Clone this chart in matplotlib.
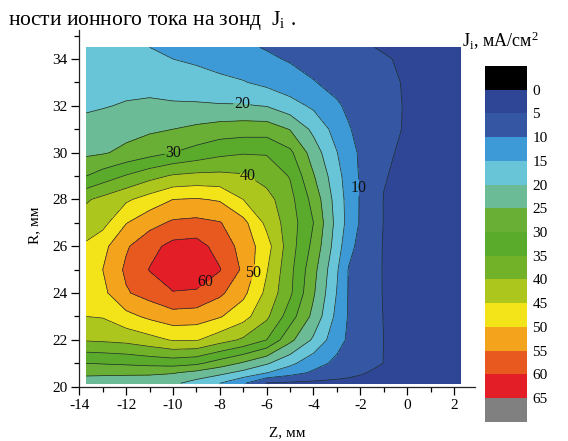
import numpy as np
import matplotlib
matplotlib.use("Agg")
import matplotlib.pyplot as plt
from matplotlib.colors import ListedColormap
from matplotlib.ticker import MultipleLocator

plt.rcParams['font.family'] = ['Liberation Serif', 'DejaVu Serif']
plt.rcParams['mathtext.fontset'] = 'custom'
plt.rcParams['mathtext.rm'] = 'Liberation Serif'
plt.rcParams['mathtext.it'] = 'Liberation Serif:italic'
plt.rcParams['axes.unicode_minus'] = False

# probe positions
z_mm = [-13.7, -13, -12, -11, -10, -9, -8, -7, -6, -5, -4, -3, -2.5, -2, -1.5, -1, 0, 1, 2, 2.3]
r_mm = [20.15, 20.6, 21, 22, 23, 24, 25, 26, 27, 28, 29, 30, 31, 32, 33, 34, 34.5]

# ion current density J_i, mA/cm^2 (rows = r_mm, columns = z_mm)
j_ion = [
    [22, 22, 22, 22.3, 21, 18, 15, 10.6, 4.7, 4.2, 3.9, 3.6, 3.5, 3.4, 3.2, 3.0, 2.8, 2.8, 2.8, 2.8],
    [26.4, 26.2, 26, 25.8, 25.4, 23.6, 21.4, 18.6, 15.2, 12, 9.25, 7.4, 6.4, 5.5, 4.6, 4.0, 3.5, 3.3, 3.2, 3.2],
    [30, 30.3, 30.8, 31.5, 32, 31, 27.6, 24.3, 20.6, 16.2, 11.85, 8.9, 7.9, 6.9, 5.9, 4.95, 3.9, 3.5, 3.4, 3.4],
    [40.5, 40.8, 41.5, 43.3, 45.4, 45.4, 42.2, 39.2, 35, 26.3, 19.2, 11.75, 9.3, 7.9, 6.45, 4.98, 4.0, 3.6, 3.5, 3.5],
    [45, 45.3, 48.5, 51, 52.9, 52.5, 50.4, 46.9, 41, 32.3, 23.6, 13.6, 9.6, 8.0, 6.4, 4.9, 4.0, 3.6, 3.5, 3.5],
    [47.3, 48.7, 54.5, 57, 59.7, 59.3, 56, 51.25, 43.8, 35.9, 25.6, 14.8, 9.66, 8.0, 6.3, 4.8, 4.0, 3.6, 3.5, 3.5],
    [48.3, 50, 55.9, 60.2, 63.3, 63.5, 60.3, 54.1, 45.4, 36.4, 26.7, 15.6, 9.75, 8.0, 6.2, 4.8, 4.0, 3.6, 3.5, 3.5],
    [45.7, 48.5, 54.4, 58.4, 61.5, 62, 58, 53.25, 47, 37.3, 28.6, 17.4, 11.6, 8.5, 6.4, 4.8, 4.0, 3.6, 3.5, 3.5],
    [42.6, 43.4, 49.8, 53.3, 55.8, 56.3, 55.3, 51.5, 43.8, 37.5, 30, 18.3, 13.3, 9.5, 7.3, 4.9, 4.0, 3.6, 3.5, 3.5],
    [39.4, 41.4, 44.2, 47.1, 50, 50.4, 49.5, 45, 41.8, 36.6, 28.3, 17.8, 13.2, 9.6, 7.2, 4.9, 4.0, 3.6, 3.5, 3.5],
    [30, 32.3, 35.4, 38.3, 40.6, 41.3, 41.3, 40.6, 38.1, 34.7, 25.4, 16.7, 12.7, 9.5, 7.5, 5.2, 4.1, 3.7, 3.5, 3.5],
    [24, 24.5, 26.2, 28.1, 30, 31.8, 33.7, 34.6, 34.6, 31.1, 22.6, 15.15, 11.9, 9.3, 7.7, 5.7, 4.2, 3.8, 3.6, 3.6],
    [21.6, 22.1, 23.3, 24.2, 25, 26.1, 27.2, 27.6, 27.6, 24.8, 18.8, 13.0, 10.3, 8.95, 7.8, 6.6, 4.5, 3.9, 3.6, 3.6],
    [19.3, 19.7, 20.4, 20.8, 20.6, 20.6, 20.4, 20.4, 19.8, 17.0, 14.1, 10.5, 9.3, 8.4, 7.4, 6.5, 4.6, 3.9, 3.6, 3.6],
    [18.3, 18.5, 18.5, 18.5, 17.7, 17.1, 16.2, 15.3, 13.7, 11.9, 10.2, 8.75, 8.1, 7.4, 6.7, 6.0, 4.6, 3.9, 3.6, 3.6],
    [17.6, 17.6, 17.0, 15.8, 15.0, 14.2, 13.0, 12.0, 10.7, 9.6, 8.6, 7.6, 7.1, 6.6, 6.0, 5.4, 4.3, 3.8, 3.6, 3.6],
    [17.3, 17.2, 16.5, 15.0, 14.3, 13.5, 11.6, 10.7, 9.7, 8.7, 7.7, 6.7, 6.2, 5.6, 5.1, 4.6, 4.0, 3.7, 3.5, 3.5],
]

levels = list(range(0, 70, 5))
plain_levels = [5, 15, 25, 35, 45, 55]
label_levels = [10, 20, 30, 40, 50, 60]
# where the contour labels sit (z, r)
label_pos = [(-1.95, 28.5), (-7.06, 32.05), (-10.0, 30.0), (-6.75, 29.1), (-6.65, 24.9), (-8.5, 24.3)]

band_colors = ['#2f4595', '#3456a3', '#3d9ad6', '#68c5d8', '#6bbb96', '#69ae35', '#5aaa2b',
               '#72b229', '#adc61d', '#f2e418', '#f4a31d', '#e7591f', '#e31e26']

cmap = ListedColormap(band_colors)
cmap.set_under('#000000')
cmap.set_over('#808080')

Z, R = np.meshgrid(z_mm, r_mm)
J = np.array(j_ion)

fig = plt.figure(figsize=(5.68, 4.41), dpi=100)
ax = fig.add_axes([0.1396, 0.1231, 0.6967, 0.8095])

cf = ax.contourf(Z, R, J, levels=levels, cmap=cmap, extend='both')
ax.contour(Z, R, J, levels=plain_levels, colors='#1e2a2a', linewidths=0.5)
cs = ax.contour(Z, R, J, levels=label_levels, colors='#1e2a2a', linewidths=0.5)
labels = ax.clabel(cs, manual=label_pos, inline=True, fmt='%d',
                   fontsize=11.5, colors='#111111', inline_spacing=1)
for t in labels:
    t.set_rotation(0)

ax.set_xlim(-14, 2.9)
ax.set_ylim(20, 35.25)
ax.xaxis.set_major_locator(MultipleLocator(2))
ax.xaxis.set_minor_locator(MultipleLocator(1))
ax.yaxis.set_major_locator(MultipleLocator(2))
ax.yaxis.set_minor_locator(MultipleLocator(1))
ax.spines['top'].set_visible(False)
ax.spines['right'].set_visible(False)
for s in ('left', 'bottom'):
    ax.spines[s].set_linewidth(0.9)
    ax.spines[s].set_color('#222222')
ax.tick_params(which='major', direction='out', length=5.5, width=0.9, labelsize=11, pad=3)
ax.tick_params(which='minor', direction='out', length=3.5, width=0.9)

ax.set_xlabel('Z, мм', fontsize=11)
ax.set_ylabel('R, мм', fontsize=11)
ax.xaxis.set_label_coords(0.525, -0.11)
ax.yaxis.set_label_coords(-0.097, 0.453)

cax = fig.add_axes([0.8539, 0.0438, 0.0739, 0.8066])
cbar = fig.colorbar(cf, cax=cax, ticks=levels, extendrect=True, extendfrac='auto')
cbar.ax.invert_yaxis()
cbar.outline.set_visible(False)
cbar.ax.tick_params(length=0, labelsize=11, pad=4)
cbar.ax.set_yticklabels([str(v) for v in levels])

fig.text(0.8135, 0.893, r'$\mathrm{J_i}$, мА/см$^2$', fontsize=13, va='baseline')
fig.text(0.014, 0.943, r'ности ионного тока на зонд  $\mathrm{J_i}$ .', fontsize=15.5, va='baseline')

fig.savefig('out.png', dpi=100)
